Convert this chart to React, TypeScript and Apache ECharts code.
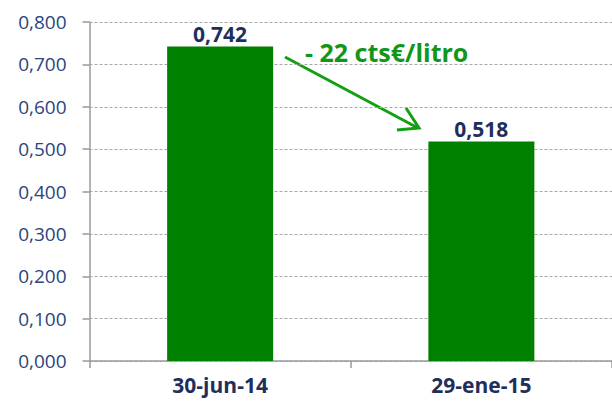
import React, { useEffect, useRef } from "react";
import * as echarts from "echarts";

const categories = ["30-jun-14", "29-ene-15"];
const values = [0.742, 0.518];
const annotation = "- 22 cts€/litro";

export default function App() {
  const ref = useRef<HTMLDivElement>(null);
  useEffect(() => {
    const chart = echarts.init(ref.current!, null, { renderer: "svg" });
    const fmt = (v: number) => v.toFixed(3).replace(".", ",");
    chart.setOption({
      animation: false,
      grid: { left: 89.5, top: 22, width: 530, height: 339, containLabel: false },
      xAxis: {
        type: "category",
        data: categories,
        axisLine: { lineStyle: { color: "#9a9a9a", width: 1.5 } },
        axisTick: { show: true, length: 7, lineStyle: { color: "#9a9a9a", width: 1.5 } },
        axisLabel: {
          color: "#1f2f5c",
          fontFamily: "Open Sans",
          fontWeight: "bold",
          fontSize: 21,
          margin: 13,
        },
      },
      yAxis: {
        type: "value",
        min: 0,
        max: 0.8,
        interval: 0.1,
        axisLine: { show: true, lineStyle: { color: "#9a9a9a", width: 1.5 } },
        axisTick: { show: true, length: 7, lineStyle: { color: "#9a9a9a", width: 1.5 } },
        splitLine: { lineStyle: { color: "#a8a8a8", type: [3, 2], width: 1 } },
        axisLabel: {
          color: "#2b4480",
          fontFamily: "Open Sans",
          fontSize: 19,
          margin: 23,
          formatter: (v: number) => fmt(v),
        },
      },
      series: [
        {
          type: "bar",
          data: values,
          barWidth: 106,
          itemStyle: { color: "#008000" },
          label: {
            show: true,
            position: "top",
            distance: 2,
            color: "#1f2f5c",
            fontFamily: "Open Sans",
            fontWeight: "bold",
            fontSize: 21,
            formatter: (p: any) => fmt(p.value),
          },
        },
      ],
      graphic: [
        {
          type: "text",
          x: 305,
          y: 52,
          style: {
            text: annotation,
            fill: "#12961a",
            font: "bold 25px 'Open Sans'",
            verticalAlign: "middle",
          },
        },
        {
          type: "line",
          shape: { x1: 285, y1: 57, x2: 418, y2: 128 },
          style: { stroke: "#12a012", lineWidth: 3 },
        },
        {
          type: "polyline",
          shape: { points: [[406, 108], [419, 128], [397, 130]] },
          style: { stroke: "#12a012", lineWidth: 3, fill: null },
        },
      ],
    });
    return () => chart.dispose();
  }, []);
  return <div ref={ref} style={{ width: 612, height: 403, position: "absolute", left: 0, top: 0 }} />;
}
